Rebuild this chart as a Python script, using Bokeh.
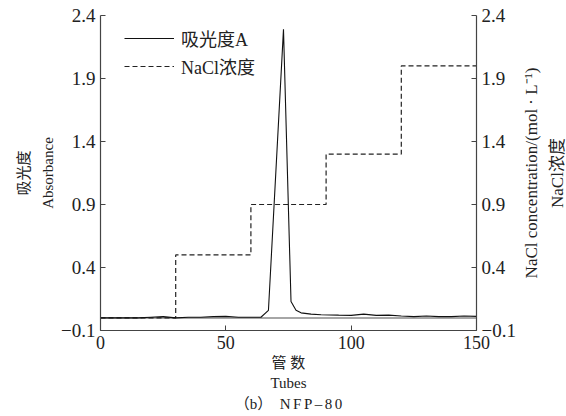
from bokeh.plotting import figure
from bokeh.layouts import row
from bokeh.models import Range1d, LinearAxis, FixedTicker, Legend, LegendItem
from bokeh.embed import file_html
from bokeh.resources import INLINE

# ---- data ----
abs_tubes = [0, 5, 10, 15, 20, 25, 30, 35, 40, 45, 50, 55, 60, 64, 67, 73, 76, 78, 80, 84,
             88, 95, 100, 105, 110, 115, 120, 125, 130, 135, 140, 145, 150]
absorbance = [0.0, 0.0, 0.0, 0.0, 0.005, 0.01, 0.0, 0.005, 0.005, 0.01, 0.012, 0.005, 0.005,
              0.005, 0.06, 2.29, 0.13, 0.06, 0.04, 0.03, 0.025, 0.022, 0.02, 0.03, 0.02,
              0.022, 0.015, 0.01, 0.015, 0.01, 0.01, 0.015, 0.012]
nacl_tubes = [0, 30, 60, 90, 120, 150]
nacl_conc = [0.0, 0.5, 0.9, 1.3, 2.0, 2.0]
base_tubes = [0, 150]
base_vals = [0.0, 0.0]
x_ticks = [0, 50, 100, 150]
y_ticks = [-0.1, 0.4, 0.9, 1.4, 1.9, 2.4]
y_tick_labels = ["\u22120.1", "0.4", "0.9", "1.4", "1.9", "2.4"]

SERIF = "Liberation Serif, Noto Sans CJK SC"
TXT = "#222222"
AX = "#444444"

p = figure(width=518, height=416, output_backend="svg", toolbar_location=None,
           x_range=Range1d(0, 150), y_range=Range1d(-0.1, 2.4),
           min_border_left=100, min_border_right=40, min_border_top=15, min_border_bottom=86,
           x_axis_type=None, y_axis_type=None)
p.extra_y_ranges = {"nacl": Range1d(-0.1, 2.4)}
p.outline_line_color = None
p.xgrid.visible = False
p.ygrid.visible = False
p.background_fill_color = "white"
p.border_fill_color = "white"

override = {t: l for t, l in zip(y_ticks, y_tick_labels)}

def style(ax, size="19px"):
    ax.axis_line_color = AX
    ax.axis_line_width = 1.2
    ax.major_tick_line_color = AX
    ax.major_tick_in = 5
    ax.major_tick_out = 0
    ax.minor_tick_line_color = None
    ax.major_label_text_font = SERIF
    ax.major_label_text_font_size = size
    ax.major_label_text_color = TXT
    ax.major_label_standoff = 5
    ax.axis_label_text_font = SERIF
    ax.axis_label_text_font_style = "normal"
    ax.axis_label_text_color = TXT
    ax.axis_label_text_font_size = "15px"

xa = LinearAxis(ticker=FixedTicker(ticks=x_ticks))
style(xa, "18px")
xa.axis_label = "管 数\nTubes\n（b）\u2002N\u2006F\u2006P\u2006–\u20068\u20060"
xa.axis_label_text_font_size = "15px"
xa.axis_label_text_line_height = 1.3
xa.axis_label_standoff = 3
p.add_layout(xa, "below")

ya = LinearAxis(ticker=FixedTicker(ticks=y_ticks))
style(ya)
ya.major_label_overrides = override
ya.major_label_text_baseline = "hanging"
ya.axis_label = "吸光度\nAbsorbance"
ya.axis_label_text_line_height = 1.5
ya.axis_label_standoff = 2
p.add_layout(ya, "left")

yr = LinearAxis(ticker=FixedTicker(ticks=y_ticks), y_range_name="nacl")
style(yr)
yr.major_label_overrides = override
yr.major_label_text_baseline = "hanging"
p.add_layout(yr, "right")

p.line(base_tubes, base_vals, line_color="#888888", line_width=1.5)
r_nacl = p.step(nacl_tubes, nacl_conc, mode="after", line_color="#222222", line_width=1.2,
                line_dash="5 3", y_range_name="nacl")
r_abs = p.line(abs_tubes, absorbance, line_color="#111111", line_width=1.1)

legend = Legend(items=[LegendItem(label="吸光度A", renderers=[r_abs]),
                       LegendItem(label="NaCl浓度", renderers=[r_nacl])],
                location=(24, 251), padding=0, margin=0, spacing=2,
                glyph_width=50, glyph_height=20, label_height=20, label_standoff=7,
                label_text_font=SERIF, label_text_font_size="18px", label_text_color=TXT,
                border_line_color=None, background_fill_alpha=0)
p.add_layout(legend, "center")

# narrow companion figure carrying the right-hand axis title (reads bottom-to-top)
p2 = figure(width=48, height=416, output_backend="svg", toolbar_location=None,
            x_range=Range1d(0, 1), y_range=Range1d(0, 1),
            min_border_left=40, min_border_right=0, min_border_top=15, min_border_bottom=86,
            x_axis_type=None, y_axis_type=None)
p2.outline_line_color = None
p2.xgrid.visible = False
p2.ygrid.visible = False
p2.background_fill_color = "white"
p2.border_fill_color = "white"
ta = LinearAxis(ticker=FixedTicker(ticks=[]))
ta.axis_line_color = None
ta.major_tick_line_color = None
ta.minor_tick_line_color = None
ta.major_tick_in = 0
ta.major_tick_out = 0
ta.major_label_standoff = 0
ta.axis_label = "NaCl concentration/(mol · L\u207b\u00b9)\nNaCl浓度"
ta.axis_label_text_font = SERIF
ta.axis_label_text_font_style = "normal"
ta.axis_label_text_color = TXT
ta.axis_label_text_font_size = "17px"
ta.axis_label_text_line_height = 1.35
ta.axis_label_standoff = -8
p2.add_layout(ta, "left")

layout = row(p, p2, spacing=0)
open("out.html", "w").write(file_html(layout, INLINE))
